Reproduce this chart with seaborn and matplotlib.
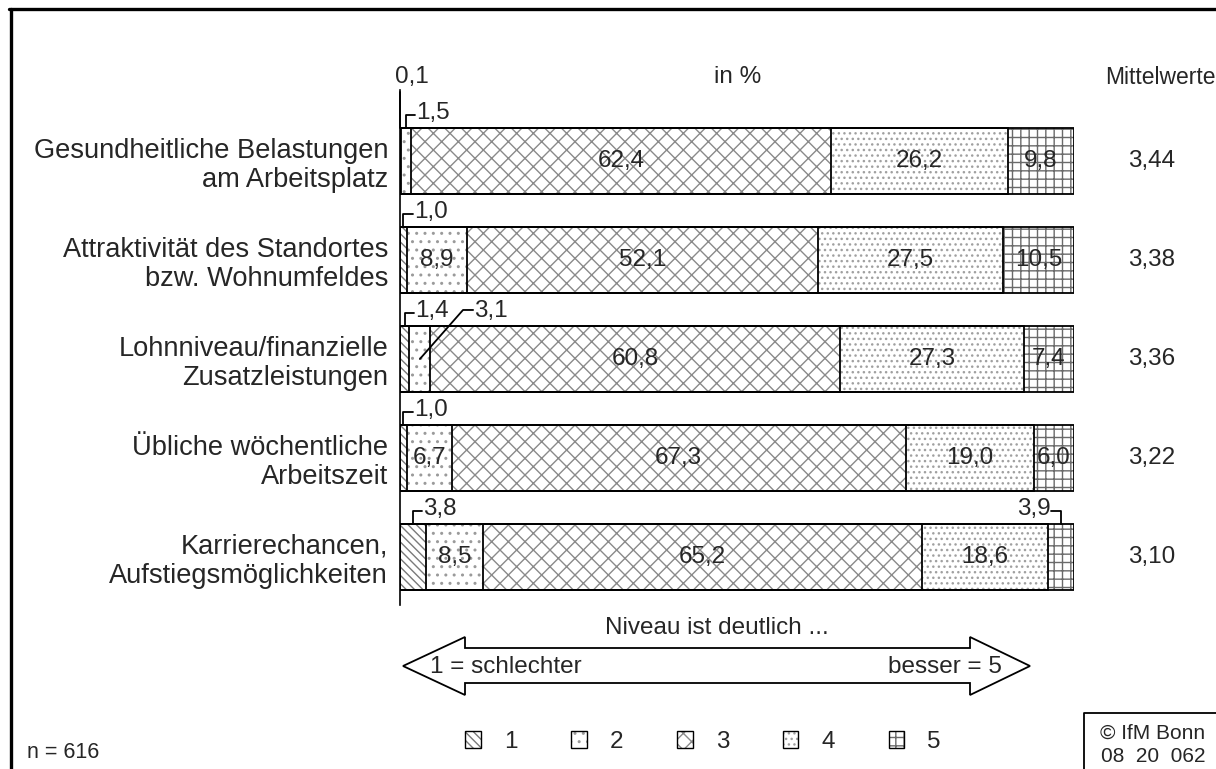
from matplotlib import pyplot as plt
from matplotlib.patches import Rectangle, Patch, Polygon
from matplotlib.legend_handler import HandlerTuple
import seaborn as sns
import numpy as np

sns.set_style("white")
plt.rcParams['font.family'] = ['Liberation Sans', 'DejaVu Sans']
plt.rcParams['hatch.linewidth'] = 1.0

labels = ["Gesundheitliche Belastungen\nam Arbeitsplatz",
          "Attraktivität des Standortes\nbzw. Wohnumfeldes",
          "Lohnniveau/finanzielle\nZusatzleistungen",
          "Übliche wöchentliche\nArbeitszeit",
          "Karrierechancen,\nAufstiegsmöglichkeiten"]
p1 = [0.1, 1.0, 1.4, 1.0, 3.8]
p2 = [1.5, 8.9, 3.1, 6.7, 8.5]
p3 = [62.4, 52.1, 60.8, 67.3, 65.2]
p4 = [26.2, 27.5, 27.3, 19.0, 18.6]
p5 = [9.8, 10.5, 7.4, 6.0, 3.9]
means = [3.44, 3.38, 3.36, 3.22, 3.10]
cats = ["1", "2", "3", "4", "5"]

hatches = ["\\\\\\\\", "..", "xx", "...", "++"]
hcols = ["#7a7a7a", "#9a9a9a", "#8a8a8a", "#a0a0a0", "#6a6a6a"]
BH = 0.667
FS = 17.5

vals = np.array([p1, p2, p3, p4, p5])
cum = vals.cumsum(axis=0)

fig = plt.figure(figsize=(12.16, 7.69), dpi=100)
ax = fig.add_axes([400 / 1216, 1 - 605 / 769, 674 / 1216, 515 / 769])
ax.set_facecolor('none')

for k in range(4, -1, -1):
    sns.barplot(x=cum[k], y=labels, orient='h', color='white', edgecolor=hcols[k],
                linewidth=0, hatch=hatches[k], width=BH, errorbar=None, ax=ax)

for p in list(ax.patches):
    ax.add_patch(Rectangle(p.get_xy(), p.get_width(), p.get_height(), fill=False,
                           edgecolor='black', linewidth=1.3, zorder=3))

ax.set_xlim(0, 100)
ax.set_ylim(4.485, -0.717)
ax.set_xticks([])
ax.set_xlabel("")
ax.set_ylabel("")
for s in ["top", "right", "bottom"]:
    ax.spines[s].set_visible(False)
ax.spines["left"].set_linewidth(1.2)
ax.spines["left"].set_color("black")
ax.tick_params(axis='y', length=0, pad=8.5, labelsize=19.6)
for t in ax.get_yticklabels():
    t.set_linespacing(1.17)

# values inside the segments
for r in range(5):
    for k in range(5):
        v = vals[k, r]
        if v >= 5:
            xc = cum[k, r] - v / 2
            ax.text(xc, r, f"{v:.1f}".replace(".", ","), ha='center', va='center',
                    fontsize=FS, zorder=5)
    ax.text(111.5, r, f"{means[r]:.2f}".replace(".", ","), ha='center', va='center',
            fontsize=FS, clip_on=False)


def bracket(r, xc, txt, right=True):
    top = r - BH / 2
    up = top - 0.13
    d = 1.4 if right else -1.4
    ax.plot([xc, xc, xc + d], [top, up, up], color='black', lw=1.3, clip_on=False, zorder=5)
    ax.text(xc + d * 1.1, r - 0.48, txt, ha='left' if right else 'right', va='center',
            fontsize=FS, clip_on=False)


def fmt(v):
    return f"{v:.1f}".replace(".", ",")


# row 1: 0,1 and 1,5
ax.plot([p1[0] / 2, p1[0] / 2], [-BH / 2, -0.697], color='black', lw=1.3, clip_on=False)
ax.text(-0.8, -0.85, fmt(p1[0]), ha='left', va='center', fontsize=FS)
bracket(0, cum[0, 0] + p2[0] / 2, fmt(p2[0]))
bracket(1, p1[1] / 2, fmt(p1[1]))
bracket(2, p1[2] / 2, fmt(p1[2]))
xc = cum[0, 2] + p2[2] / 2
ax.plot([xc, xc + 6.4, xc + 7.9], [2.0, 2 - 0.495, 2 - 0.495], color='black', lw=1.3,
        clip_on=False, zorder=5)
ax.text(xc + 8.1, 2 - 0.48, fmt(p2[2]), ha='left', va='center', fontsize=FS)
bracket(3, p1[3] / 2, fmt(p1[3]))
bracket(4, p1[4] / 2, fmt(p1[4]))
bracket(4, cum[3, 4] + p5[4] / 2, fmt(p5[4]), right=False)

# overlay for frame, headers, arrow, notes
ov = fig.add_axes([0, 0, 1, 1], zorder=-1)
ov.set_xlim(0, 1216)
ov.set_ylim(769, 0)
ov.axis('off')
ov.plot([9, 1216], [8.5, 8.5], color='black', lw=2.4)
ov.plot([10.5, 10.5], [8.5, 769], color='black', lw=2.4)
ov.text(738, 77, "in %", ha='center', va='center', fontsize=FS)
ov.text(1160, 77, "Mittelwerte", ha='center', va='center', fontsize=16.5)
ov.text(717, 628, "Niveau ist deutlich ...", ha='center', va='center', fontsize=FS)
arrow = [(403, 666), (465, 637), (465, 648), (970, 648), (970, 637), (1030, 666),
         (970, 695), (970, 683), (465, 683), (465, 695)]
ov.add_patch(Polygon(arrow, closed=True, facecolor='white', edgecolor='black', lw=1.3))
ov.text(430, 667, "1 = schlechter", ha='left', va='center', fontsize=FS)
ov.text(1002, 667, "besser = 5", ha='right', va='center', fontsize=FS)
ov.text(27, 752, "n = 616", ha='left', va='center', fontsize=15.5)
ov.plot([1084, 1084, 1216], [769, 713, 713], color='black', lw=1.3)
ov.text(1153, 733, "© IfM Bonn", ha='center', va='center', fontsize=15)
ov.text(1153, 757, "08  20  062", ha='center', va='center', fontsize=15)

handles = [(Patch(facecolor='white', edgecolor=hcols[k], hatch=hatches[k], linewidth=0),
            Patch(fill=False, edgecolor='black', linewidth=1.0)) for k in range(5)]
fig.legend(handles, cats, handler_map={tuple: HandlerTuple(ndivide=1, pad=0)},
           loc='center', bbox_to_anchor=(703 / 1216, 1 - 742 / 769), ncol=5,
           frameon=False, fontsize=FS, handlelength=0.65, handleheight=0.65,
           handletextpad=0.95, columnspacing=2.2)

fig.savefig("out.png", dpi=100)
